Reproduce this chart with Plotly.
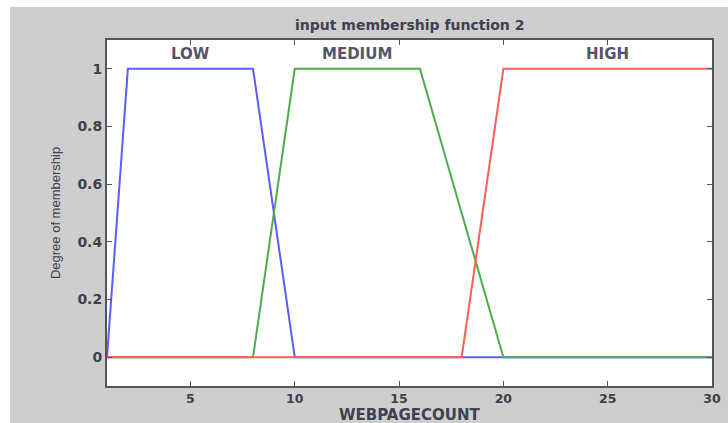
import plotly.graph_objects as go

# ---- data ----
low_x = [1, 2, 8, 10, 30]
low_y = [0, 1, 1, 0, 0]
medium_x = [1, 8, 10, 16, 20, 30]
medium_y = [0, 0, 1, 1, 0, 0]
high_x = [1, 18, 20, 30]
high_y = [0, 0, 1, 1]
mf_names = ["LOW", "MEDIUM", "HIGH"]
mf_label_x = [5, 13, 25]
mf_label_y = 1.05
x_ticks = [5, 10, 15, 20, 25, 30]
y_ticks = [0, 0.2, 0.4, 0.6, 0.8, 1]
y_tick_text = ["0", "0.2", "0.4", "0.6", "0.8", "1"]
x_title = "WEBPAGECOUNT"
y_title = "Degree of membership"
chart_title = "input membership function 2"

W, H = 728, 423
ML, MR, MT, MB = 107, 16, 40, 37
PW, PH = W - ML - MR, H - MT - MB

fig = go.Figure()
colors = ["#5c5cff", "#4cad4c", "#ff5c5c"]
for xs, ys, c, n in zip([low_x, medium_x, high_x], [low_y, medium_y, high_y], colors, mf_names):
    fig.add_trace(go.Scatter(x=xs, y=ys, mode="lines", name=n,
                             line=dict(color=c, width=2), showlegend=False,
                             hoverinfo="skip"))

for n, lx in zip(mf_names, mf_label_x):
    fig.add_annotation(x=lx, y=mf_label_y, text=n, showarrow=False,
                       xanchor="center", yanchor="middle",
                       font=dict(family="DejaVu Sans", size=15, color="#55556a", weight="bold"))

# title
fig.add_annotation(xref="paper", yref="paper", x=0.5, y=1 + (MT - 25) / PH,
                   text=chart_title, showarrow=False,
                   xanchor="center", yanchor="middle",
                   font=dict(family="DejaVu Sans", size=14, color="#404050", weight="bold"))

# x-axis title
fig.add_annotation(xref="paper", yref="paper", x=0.5, y=-(415 - (MT + PH)) / PH,
                   text=x_title, showarrow=False, borderpad=0,
                   xanchor="center", yanchor="middle",
                   font=dict(family="DejaVu Sans", size=15, color="#404050", weight="bold"))

# white strips along top and left edges of the image
fig.add_shape(type="rect", xref="paper", yref="paper",
              x0=-ML / PW - 0.01, x1=(10 - ML) / PW, y0=-MB / PH - 0.05, y1=1 + MT / PH + 0.05,
              fillcolor="white", line=dict(width=0), layer="above")
fig.add_shape(type="rect", xref="paper", yref="paper",
              x0=-ML / PW - 0.01, x1=1 + MR / PW + 0.01, y0=1 + (MT - 7) / PH, y1=1 + MT / PH + 0.05,
              fillcolor="white", line=dict(width=0), layer="above")

axis_common = dict(showgrid=False, zeroline=False, showline=True, linecolor="#555555",
                   linewidth=2, mirror="ticks", ticks="inside", ticklen=5,
                   tickcolor="#555555", tickwidth=1, automargin=False)

fig.update_layout(
    width=W, height=H,
    margin=dict(l=ML, r=MR, t=MT, b=MB, pad=0),
    paper_bgcolor="#cecece", plot_bgcolor="white",
    xaxis=dict(range=[1, 30], tickvals=x_ticks, **axis_common,
               tickfont=dict(family="DejaVu Sans", size=12.5, color="#404048", weight="bold")),
    yaxis=dict(range=[-0.1, 1.1], tickvals=y_ticks, ticktext=y_tick_text, **axis_common,
               tickfont=dict(family="DejaVu Sans", size=14, color="#404048", weight="bold"),
               title=dict(text=y_title, standoff=14,
                          font=dict(family="Liberation Sans", size=13, color="#404050"))),
)

fig.write_html("out.html")
